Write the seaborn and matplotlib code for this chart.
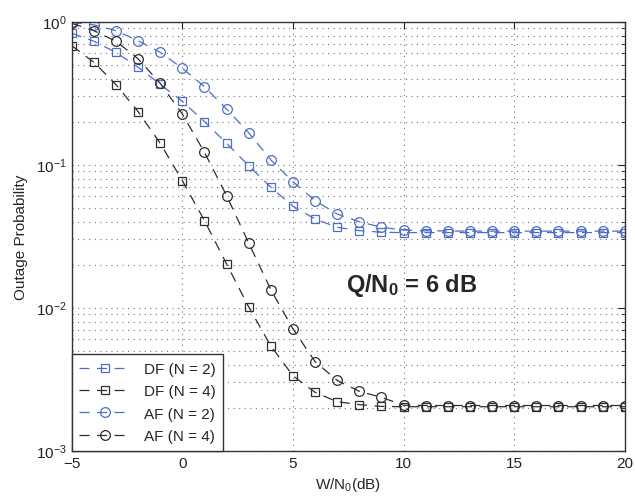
import numpy as np
import pandas as pd
import seaborn as sns
import matplotlib
matplotlib.use("Agg")
import matplotlib.pyplot as plt
from matplotlib.ticker import LogLocator, NullFormatter, MultipleLocator

# SNR axis (dB)
snr_db = list(range(-5, 21))

# Outage probability per scheme
df_n2 = [0.83, 0.73, 0.61, 0.48, 0.365, 0.277, 0.20, 0.141, 0.0984, 0.0695,
         0.0512, 0.0417, 0.0365, 0.0346, 0.0337, 0.0335, 0.0335, 0.0335, 0.0335,
         0.0335, 0.0335, 0.0335, 0.0335, 0.0335, 0.0335, 0.0335]
df_n4 = [0.68, 0.52, 0.363, 0.235, 0.141, 0.0773, 0.0406, 0.0202, 0.0101, 0.0054,
         0.00334, 0.00256, 0.0022, 0.0021, 0.00204, 0.00203, 0.00203, 0.00203,
         0.00203, 0.00203, 0.00203, 0.00203, 0.00203, 0.00203, 0.00203, 0.00203]
af_n2 = [0.99, 0.95, 0.865, 0.736, 0.61, 0.472, 0.351, 0.245, 0.167, 0.108,
         0.076, 0.056, 0.0452, 0.0399, 0.0365, 0.0349, 0.0345, 0.0344, 0.0343,
         0.0343, 0.0343, 0.0343, 0.0343, 0.0343, 0.0343, 0.0343]
af_n4 = [0.975, 0.865, 0.73, 0.55, 0.37, 0.226, 0.122, 0.0607, 0.0283, 0.01336,
         0.0071, 0.00419, 0.0031, 0.0026, 0.00236, 0.00208, 0.00207, 0.00207,
         0.00207, 0.00207, 0.00207, 0.00207, 0.00207, 0.00207, 0.00207, 0.00207]

labels = ["DF (N = 2)", "DF (N = 4)", "AF (N = 2)", "AF (N = 4)"]
series = [df_n2, df_n4, af_n2, af_n4]
blue = "#4f6ec6"
dark = "#2e2e2e"
colors = [blue, dark, blue, dark]
markers = ["s", "s", "o", "o"]
msizes = [5.5, 5.5, 7, 7]

sns.set_style("white")
plt.rcParams["font.family"] = ["Liberation Sans", "DejaVu Sans"]
plt.rcParams["mathtext.fontset"] = "custom"
plt.rcParams["mathtext.rm"] = "Liberation Sans"
plt.rcParams["mathtext.bf"] = "Liberation Sans:bold"

fig = plt.figure(figsize=(6.35, 5.02), dpi=100)
ax = fig.add_axes([0.113, 0.1002, 0.871, 0.8546])

for vals, lab, col, mk, ms in zip(series, labels, colors, markers, msizes):
    data = pd.DataFrame({"snr": snr_db, "p": vals})
    sns.lineplot(data=data, x="snr", y="p", ax=ax, color=col, marker=mk,
                 markersize=ms, markerfacecolor="none", markeredgecolor=col,
                 markeredgewidth=0.9, linewidth=0.9,
                 linestyle=(0, (8, 6)), label=lab)

ax.set_yscale("log")
ax.set_xlim(-5, 20)
ax.set_ylim(1e-3, 1)
ax.xaxis.set_major_locator(MultipleLocator(5))
ax.yaxis.set_major_locator(LogLocator(base=10, numticks=10))
ax.yaxis.set_minor_locator(LogLocator(base=10, subs=np.arange(2, 10), numticks=20))
ax.yaxis.set_minor_formatter(NullFormatter())

ax.grid(True, which="major", axis="both", linestyle=(0, (1, 4)),
        color="#777777", linewidth=0.8)
ax.grid(True, which="minor", axis="y", linestyle=(0, (1, 4)),
        color="#777777", linewidth=0.8)

ax.tick_params(which="both", direction="in", top=True, right=True,
               labelsize=11, colors="#222222")
ax.tick_params(which="major", length=5, width=0.8)
ax.tick_params(which="minor", length=3, width=0.6)
for sp in ax.spines.values():
    sp.set_color("#333333")
    sp.set_linewidth(1.0)

ax.set_xlabel("W/N$_0$(dB)", fontsize=11, labelpad=4)
ax.set_ylabel("Outage Probability", fontsize=11, labelpad=6)

ax.text(7.4, 0.0146, r"$\mathbf{Q/N_0}$ = 6 dB", fontsize=17, fontweight="bold",
        va="center", ha="left")

leg = ax.legend(loc="lower left", borderaxespad=0, fontsize=11,
                handlelength=3.4, fancybox=False, framealpha=1,
                edgecolor="#333333", borderpad=0.5, labelspacing=0.55)
leg.get_frame().set_linewidth(1.0)

fig.savefig("out.png", dpi=100, facecolor="white")
